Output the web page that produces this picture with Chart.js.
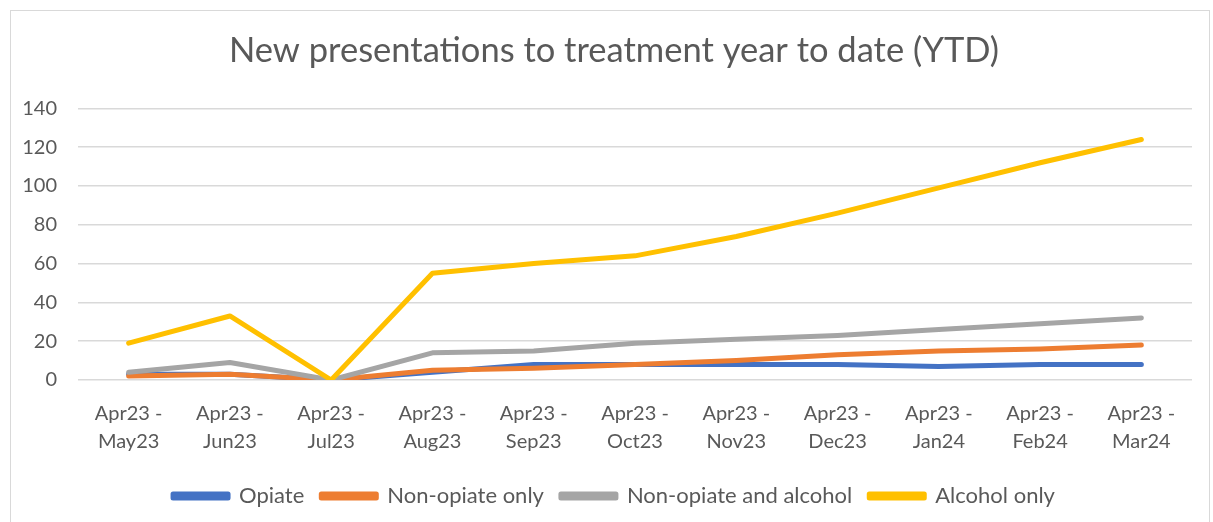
<!DOCTYPE html>
<html>
<head>
<meta charset="utf-8">
<script src="https://cdn.jsdelivr.net/npm/chart.js@4/dist/chart.umd.min.js"></script>
<style>
  html, body { margin: 0; padding: 0; background: #fff; }
  #wrap { position: relative; width: 1213px; height: 522px; }
  #frame { position: absolute; left: 10px; top: 10px; width: 1200px; height: 520px;
           border: 1px solid #d9d9d9; box-sizing: border-box; pointer-events: none; }
</style>
</head>
<body>
<div id="wrap">
  <canvas id="chart" width="1213" height="522"></canvas>
  <div id="frame"></div>
</div>
<script>
// Year-to-date counts
const periods = [
  ['Apr23 -', 'May23'], ['Apr23 -', 'Jun23'], ['Apr23 -', 'Jul23'], ['Apr23 -', 'Aug23'],
  ['Apr23 -', 'Sep23'], ['Apr23 -', 'Oct23'], ['Apr23 -', 'Nov23'], ['Apr23 -', 'Dec23'],
  ['Apr23 -', 'Jan24'], ['Apr23 -', 'Feb24'], ['Apr23 -', 'Mar24']
];
const opiate = [3, 3, 0, 4, 8, 8, 8, 8, 7, 8, 8];
const nonOpiateOnly = [2, 3, 0, 5, 6, 8, 10, 13, 15, 16, 18];
const nonOpiateAlcohol = [4, 9, 0, 14, 15, 19, 21, 23, 26, 29, 32];
const alcoholOnly = [19, 33, 0, 55, 60, 64, 74, 86, 99, 112, 124];
const yTicks = [0, 20, 40, 60, 80, 100, 120, 140];

const textColor = '#595959';
const font = 'Lato, "Open Sans", sans-serif';

// later series sit on top, like the original
function series(label, data, color, order) {
  return {
    label, data, order,
    borderColor: color, backgroundColor: color,
    borderWidth: 5, pointRadius: 0, tension: 0,
    borderCapStyle: 'round', borderJoinStyle: 'round'
  };
}

new Chart(document.getElementById('chart').getContext('2d'), {
  type: 'line',
  data: {
    labels: periods,
    datasets: [
      series('Opiate', opiate, '#4472C4', 4),
      series('Non-opiate only', nonOpiateOnly, '#ED7D31', 3),
      series('Non-opiate and alcohol', nonOpiateAlcohol, '#A5A5A5', 2),
      series('Alcohol only', alcoholOnly, '#FFC000', 1)
    ]
  },
  options: {
    responsive: false,
    animation: false,
    layout: { padding: { left: 22, right: 7, top: 22, bottom: 5 } },
    plugins: {
      title: {
        display: true,
        text: 'New presentations to treatment year to date (YTD)',
        color: textColor,
        font: { family: font, size: 34.5, weight: 'normal' },
        padding: { top: 8, bottom: 37 }
      },
      legend: {
        position: 'bottom',
        labels: {
          color: textColor,
          font: { family: font, size: 22 },
          boxWidth: 55, boxHeight: 4,
          padding: 17,
          sort: (a, b) => a.datasetIndex - b.datasetIndex
        }
      },
      tooltip: { enabled: false }
    },
    scales: {
      x: {
        offset: true,
        grid: { display: false },
        border: { display: false },
        ticks: { color: textColor, font: { family: font, size: 20, lineHeight: 1.4 }, maxRotation: 0, padding: 12 }
      },
      y: {
        min: 0, max: 140,
        afterBuildTicks: axis => { axis.ticks = yTicks.map(v => ({ value: v })); },
        afterFit: axis => { axis.width = 56; },
        grid: { color: '#d9d9d9', lineWidth: 1.5, drawTicks: false },
        border: { display: false },
        ticks: { color: textColor, font: { family: font, size: 20 }, padding: 21 }
      },
      // empty right-hand strip so the title centres as in the original
      yPad: {
        position: 'right',
        grid: { display: false },
        border: { display: false },
        ticks: { display: false },
        afterFit: axis => { axis.width = 14; }
      }
    }
  }
});
</script>
</body>
</html>
